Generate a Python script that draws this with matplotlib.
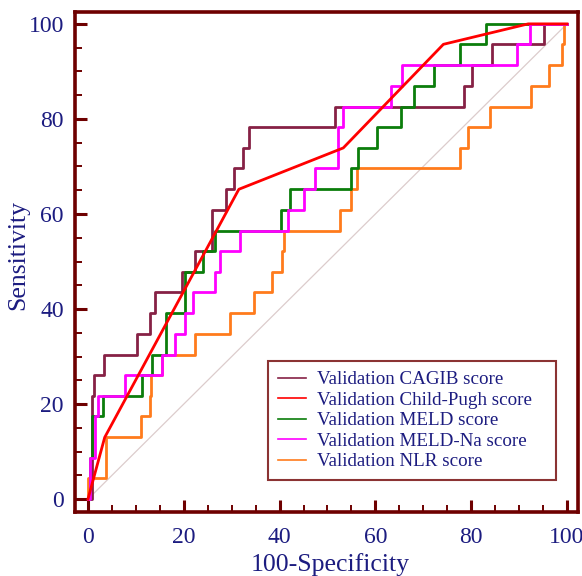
import matplotlib
matplotlib.use('Agg')
import matplotlib.pyplot as plt
from matplotlib.ticker import MultipleLocator

# ROC corner points: x = 100-Specificity where sensitivity rises, y = sensitivity after the rise
cagib_x = [0, 0.9, 1.3, 3.3, 10.2, 12.9, 14.0, 19.6, 22.3, 26.0, 28.8, 30.5, 32.4, 33.6,
           51.6, 78.4, 80.1, 84.3, 95.2, 100]
cagib_y = [0, 21.7, 26.1, 30.4, 34.8, 39.1, 43.5, 47.8, 52.2, 60.9, 65.2, 69.6, 73.9, 78.3,
           82.6, 87.0, 91.3, 95.7, 100, 100]

# Child-Pugh has few cut-offs, drawn as straight segments
cp_x = [0, 3.5, 31.5, 53.3, 74.2, 91.9, 100]
cp_y = [0, 13.0, 65.2, 73.9, 95.7, 100, 100]

meld_x = [0, 0.4, 0.8, 3.1, 11.2, 13.3, 16.3, 20.3, 24.1, 26.5, 40.3, 42.2, 54.9, 56.3,
          60.3, 65.3, 68.1, 72.2, 77.7, 83.1, 100]
meld_y = [0, 8.7, 17.4, 21.7, 26.1, 30.4, 39.1, 47.8, 52.2, 56.5, 60.9, 65.2, 69.6, 73.9,
          78.3, 82.6, 87.0, 91.3, 95.7, 100, 100]

meldna_x = [0, 0.4, 1.5, 2.2, 7.7, 15.4, 18.2, 20.3, 22.0, 26.5, 27.6, 31.7, 41.8, 45.0,
            47.4, 52.1, 53.3, 63.3, 65.5, 89.5, 92.3, 100]
meldna_y = [0, 8.7, 17.4, 21.7, 26.1, 30.4, 34.8, 39.1, 43.5, 47.8, 52.2, 56.5, 60.9, 65.2,
            69.6, 78.3, 82.6, 87.0, 91.3, 95.7, 100, 100]

nlr_x = [0, 0, 3.8, 11.1, 12.9, 13.2, 15.4, 22.3, 29.6, 34.7, 38.5, 40.6, 41.0, 52.6, 54.9,
         56.1, 77.7, 79.4, 83.9, 92.4, 96.2, 98.9, 99.4, 100]
nlr_y = [0, 4.35, 13.0, 17.4, 21.7, 26.1, 30.4, 34.8, 39.1, 43.5, 47.8, 52.2, 56.5, 60.9, 65.2,
         69.6, 73.9, 78.3, 82.6, 87.0, 91.3, 95.7, 100, 100]

labels = ['Validation CAGIB score', 'Validation Child-Pugh score', 'Validation MELD score',
          'Validation MELD-Na score', 'Validation NLR score']
colors = ['#862145', '#ff0000', '#0b7d0b', '#ff00ff', '#ff7b1c']

axis_col = '#6e0000'
text_col = '#1c1c80'

plt.rcParams['font.family'] = ['Liberation Serif', 'DejaVu Serif']

fig = plt.figure(figsize=(5.82, 5.76), dpi=100)
ax = fig.add_axes([75 / 582, 1 - 512 / 576, 503 / 582, 500 / 576])

# chance line
ax.plot([0, 100], [0, 100], color='#dccccc', lw=0.9, zorder=1)

lw = 2.0
ax.plot(cagib_x, cagib_y, drawstyle='steps-post', color=colors[0], lw=lw, label=labels[0], zorder=3)
ax.plot(cp_x, cp_y, color=colors[1], lw=lw, label=labels[1], zorder=6)
ax.plot(meld_x, meld_y, drawstyle='steps-post', color=colors[2], lw=lw, label=labels[2], zorder=4)
ax.plot(meldna_x, meldna_y, drawstyle='steps-post', color=colors[3], lw=lw, label=labels[3], zorder=5)
ax.plot(nlr_x, nlr_y, drawstyle='steps-post', color=colors[4], lw=lw, label=labels[4], zorder=2)

ax.set_xlim(-2.7, 102.3)
ax.set_ylim(-2.7, 102.5)

ax.xaxis.set_major_locator(MultipleLocator(20))
ax.xaxis.set_minor_locator(MultipleLocator(5))
ax.yaxis.set_major_locator(MultipleLocator(20))
ax.yaxis.set_minor_locator(MultipleLocator(5))

for s in ax.spines.values():
    s.set_color(axis_col)
    s.set_linewidth(2.6)

ax.tick_params(which='major', direction='in', length=8.5, width=2.2, color=axis_col,
               labelsize=17, labelcolor=text_col)
ax.tick_params(axis='x', which='major', pad=11)
ax.tick_params(axis='y', which='major', pad=8)
ax.tick_params(which='minor', direction='in', length=5, width=1.4, color=axis_col)

ax.set_xlabel('100-Specificity', fontsize=18.5, color=text_col)
ax.set_ylabel('Sensitivity', fontsize=18.5, color=text_col)
ax.xaxis.label.set_va('center')
ax.xaxis.set_label_coords(0.507, -0.106)
ax.yaxis.label.set_va('center')
ax.yaxis.set_label_coords(-0.113, 0.514)

# legend box stretched to the width seen in the reference, entries left aligned
leg = ax.legend(loc='lower left', bbox_to_anchor=(0.384, 0.064, 0.5726, 0.24), mode='expand',
                borderaxespad=0, fontsize=13.7, frameon=True, fancybox=False,
                handlelength=1.5, handletextpad=0.58, labelspacing=0.17, borderpad=0.5)
leg.get_frame().set_edgecolor(axis_col)
leg.get_frame().set_linewidth(1.5)
for t in leg.get_texts():
    t.set_color(text_col)
for h in leg.get_lines():
    h.set_linewidth(1.2)

fig.savefig('out.png', dpi=100)
